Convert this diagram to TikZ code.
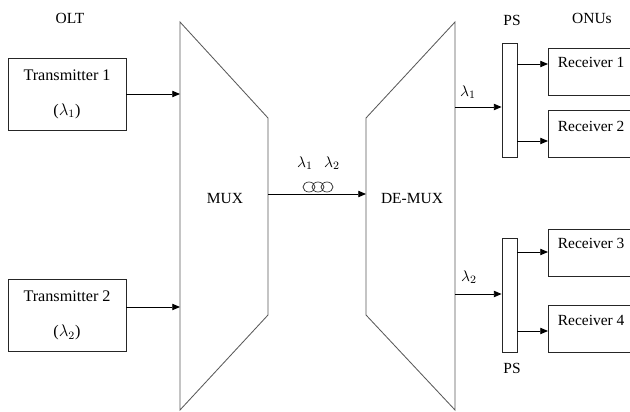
\documentclass[tikz,border=0pt]{standalone}
\usepackage{fontspec}
\setmainfont{Liberation Serif}
\usepackage{amsmath}
\usetikzlibrary{arrows.meta, positioning, calc}

\begin{document}
\begin{tikzpicture}[x=0.025cm, y=-0.025cm, >={Triangle[length=5.5pt, width=4.5pt]},
    every node/.style={font=\fontsize{11}{13}\selectfont},
    txbox/.style={draw=black!85, line width=0.6pt, minimum width=2.95cm, minimum height=1.8cm, align=center, inner sep=0pt, font=\fontsize{11.5}{13}\selectfont},
    rxbox/.style={draw=black!85, line width=0.6pt, minimum width=2.5cm, minimum height=1.175cm},
    psbox/.style={draw=black!85, line width=0.6pt, minimum width=0.375cm, minimum height=2.85cm, inner sep=0pt},
    arr/.style={->, line width=0.6pt},
    trap/.style={draw=black!65, line width=0.6pt}]

\useasboundingbox (0,0) rectangle (630,412);

% Define nodes
\node[txbox] (tx1) at (67,94) {Transmitter 1\\[12pt]($\lambda_1$)};
\node[txbox] (tx2) at (67,315.5) {Transmitter 2\\[12pt]($\lambda_2$)};

\node[psbox] (ps1) at (509.5,100) {};
\node[psbox] (ps2) at (509.5,295) {};

\node[rxbox] (rx1) at (598,71.5) {};
\node[rxbox] (rx2) at (598,134) {};
\node[rxbox] (rx3) at (598,252.5) {};
\node[rxbox] (rx4) at (598,329) {};

% Receiver texts
\node[anchor=west, inner sep=0pt] (rx1t) at ($(rx1.north west)+(10,15)$) {Receiver 1};
\node[anchor=west, inner sep=0pt] (rx2t) at ($(rx2.north west)+(10,16)$) {Receiver 2};
\node[anchor=west, inner sep=0pt] (rx3t) at ($(rx3.north west)+(10,15)$) {Receiver 3};
\node[anchor=west, inner sep=0pt] (rx4t) at ($(rx4.north west)+(10,15)$) {Receiver 4};

% MUX and DE-MUX shapes
\coordinate (mux-tl) at (180,22);
\coordinate (mux-tr) at (268,118);
\coordinate (mux-br) at (268,315);
\coordinate (mux-bl) at (180,410);
\draw[trap] (mux-tl) -- (mux-tr) -- (mux-br) -- (mux-bl) -- cycle;
\node (mux) at (225,199) {MUX};

\coordinate (dmx-tl) at (366,118);
\coordinate (dmx-tr) at (455,22);
\coordinate (dmx-br) at (455,410);
\coordinate (dmx-bl) at (366,315);
\draw[trap] (dmx-tl) -- (dmx-tr) -- (dmx-br) -- (dmx-bl) -- cycle;
\node (dmx) at (412,199) {DE-MUX};

% Transmitters to MUX
\coordinate (m1in) at (180,94);
\coordinate (m2in) at (180,307);
\draw[arr] (tx1.east) -- (m1in);
\draw[arr] (tx2.east |- m2in) -- (m2in);

% Fibre with coil
\coordinate (mout) at (268,194);
\coordinate (dmin) at (366,194);
\draw[arr] (mout) -- (dmin);
\foreach \cx in {309,318,327}
  \draw[line width=0.5pt, black!80] (\cx,187) ellipse [x radius=6, y radius=5];
\node (lf1) at (305,163) {$\lambda_1$};
\node (lf2) at (332,163) {$\lambda_2$};

% DE-MUX to power splitters
\coordinate (d1out) at (455,107);
\coordinate (d2out) at (455,294);
\draw[arr] (d1out) -- (ps1.west |- d1out);
\draw[arr] (d2out) -- (ps2.west |- d2out);
\node (lo1) at (468,92) {$\lambda_1$};
\node (lo2) at (469,277) {$\lambda_2$};

% Power splitters to receivers
\coordinate (r1in) at (548,64);
\coordinate (r2in) at (548,141);
\coordinate (r3in) at (548,252);
\coordinate (r4in) at (548,331);
\draw[arr] (ps1.east |- r1in) -- (r1in);
\draw[arr] (ps1.east |- r2in) -- (r2in);
\draw[arr] (ps2.east |- r3in) -- (r3in);
\draw[arr] (ps2.east |- r4in) -- (r4in);

% Labels
\node (olt) at (70,18) {OLT};
\node (pstop) at (512,20) {PS};
\node (onus) at (592,18) {ONUs};
\node (psbot) at (512,368) {PS};

\end{tikzpicture}
\end{document}
